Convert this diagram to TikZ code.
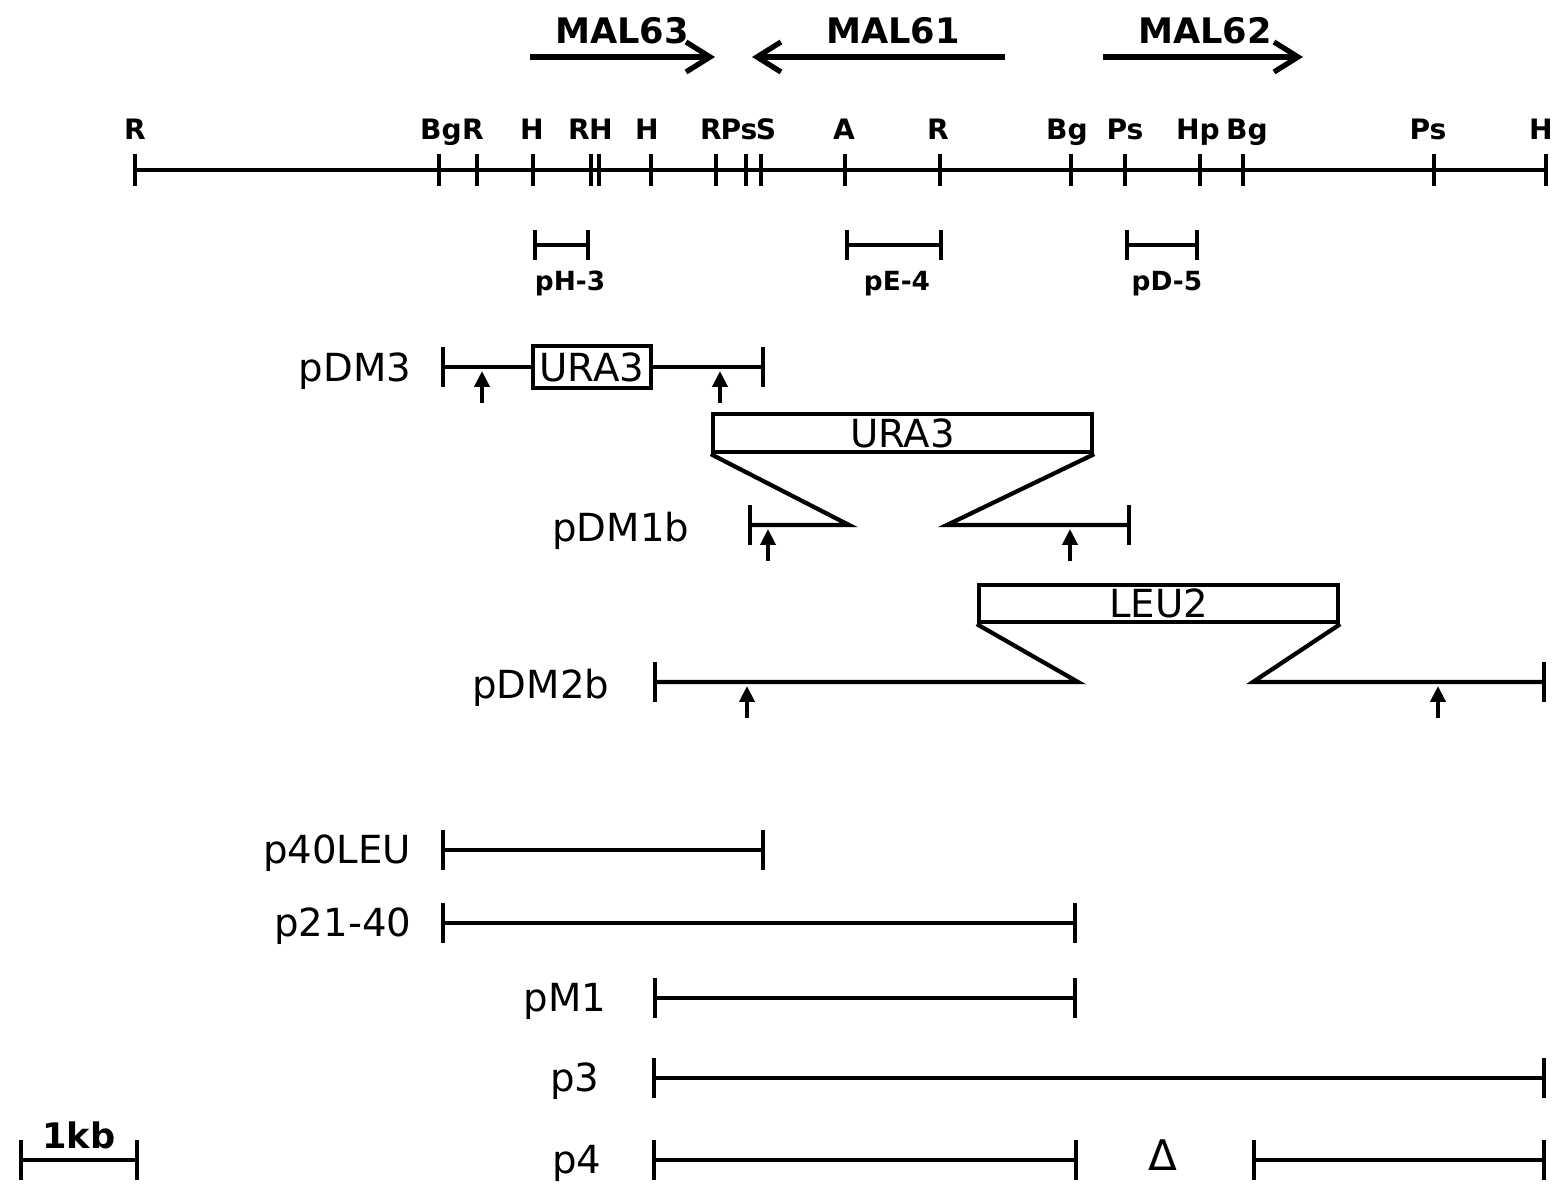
\documentclass[tikz,border=0pt]{standalone}
\usepackage{fontspec}
\setmainfont{DejaVu Sans}
\usetikzlibrary{arrows.meta}

\tikzset{
  dna/.style={line width=1.2pt, line join=miter},
  bothbar/.style={dna, {Bar[width=4mm,line width=1.2pt]}-{Bar[width=4mm,line width=1.2pt]}},
  leftbar/.style={dna, {Bar[width=4mm,line width=1.2pt]}-},
  rightbar/.style={dna, -{Bar[width=4mm,line width=1.2pt]}},
  probe/.style={dna, {Bar[width=3mm,line width=1.2pt]}-{Bar[width=3mm,line width=1.2pt]}},
  tick/.style={line width=1.2pt},
  gene/.style={line width=1.5pt, -{Straight Barb[length=2.4mm,width=3mm,line width=1.5pt]}},
  marker/.style={line width=1.3pt, -{Triangle[length=1.6mm,width=1.5mm]}},
  genebox/.style={draw, line width=1.2pt, inner sep=0pt, font=\fontsize{11}{11}\selectfont},
  sitelab/.style={anchor=base, inner sep=0pt, font=\bfseries\fontsize{8}{8}\selectfont},
  genelab/.style={anchor=base, inner sep=0pt, font=\bfseries\fontsize{10}{10}\selectfont},
  probelab/.style={anchor=base, inner sep=0pt, font=\bfseries\fontsize{7.5}{7.5}\selectfont},
  clonelab/.style={anchor=base east, inner sep=0pt, font=\fontsize{11}{11}\selectfont}
}

\begin{document}
\begin{tikzpicture}[x=0.01cm, y=-0.01cm]
\useasboundingbox (0,0) rectangle (1556,1192);

% genes
\coordinate (g63a) at (530,57);  \coordinate (g63b) at (715,57);
\coordinate (g61a) at (1005,57); \coordinate (g61b) at (752,57);
\coordinate (g62a) at (1103,57); \coordinate (g62b) at (1303,57);
\draw[gene] (g63a) -- (g63b);
\draw[gene] (g61a) -- (g61b);
\draw[gene] (g62a) -- (g62b);
\node[genelab] (mal63) at (622,44) {MAL63};
\node[genelab] (mal61) at (893,44) {MAL61};
\node[genelab] (mal62) at (1205,44) {MAL62};

% restriction map
\foreach \n/\x/\lx/\t in {1/135/135/R, 2/439/441/Bg, 3/477/473/R, 4/533/532/H,
    5/591/579/R, 6/599/601/H, 7/651/647/H, 8/716/711/R, 9/746/739/Ps,
    10/761/766/S, 11/845/844/A, 12/940/938/R, 13/1071/1067/Bg, 14/1125/1125/Ps,
    15/1200/1198/Hp, 16/1243/1247/Bg, 17/1434/1428/Ps, 18/1546/1541/H} {
  \coordinate (s\n) at (\x,170);
  \node[sitelab] (l\n) at (\lx,140) {\t};
}
\draw[tick] (s1) -- (s18);
\foreach \n in {1,...,18} \draw[tick] (s\n) ++(0,-16) -- ++(0,32);

% probes
\coordinate (h3a) at (533,245);  \coordinate (h3b) at (590,245);
\coordinate (e4a) at (845,245);  \coordinate (e4b) at (943,245);
\coordinate (d5a) at (1125,245); \coordinate (d5b) at (1199,245);
\draw[probe] (h3a) -- (h3b);
\draw[probe] (e4a) -- (e4b);
\draw[probe] (d5a) -- (d5b);
\node[probelab] (ph3) at (570,291) {pH-3};
\node[probelab] (pe4) at (897,291) {pE-4};
\node[probelab] (pd5) at (1167,291) {pD-5};

% pDM3
\node[clonelab] (pdm3) at (412,382) {pDM3};
\coordinate (m3a) at (441,367); \coordinate (m3b) at (765,367);
\node[genebox, minimum width=1.18cm, minimum height=0.42cm] (ura1) at (592,367) {URA3};
\draw[leftbar] (m3a) -- (ura1.west);
\draw[rightbar] (ura1.east) -- (m3b);
\coordinate (k1a) at (482,403); \coordinate (k1b) at (482,371);
\coordinate (k2a) at (720,403); \coordinate (k2b) at (720,371);
\draw[marker] (k1a) -- (k1b);
\draw[marker] (k2a) -- (k2b);

% pDM1b
\node[genebox, minimum width=3.79cm, minimum height=0.38cm] (ura2) at (902.5,433) {URA3};
\node[clonelab] (pdm1b) at (690,542) {pDM1b};
\coordinate (m1a) at (748,525);  \coordinate (m1b) at (849,525);
\coordinate (m1c) at (947,525);  \coordinate (m1d) at (1131,525);
\draw[leftbar] (m1a) -- (m1b) -- (ura2.south west);
\draw[rightbar] (ura2.south east) -- (m1c) -- (m1d);
\coordinate (k3a) at (768,561);  \coordinate (k3b) at (768,529);
\coordinate (k4a) at (1070,561); \coordinate (k4b) at (1070,529);
\draw[marker] (k3a) -- (k3b);
\draw[marker] (k4a) -- (k4b);

% pDM2b
\node[genebox, minimum width=3.59cm, minimum height=0.37cm] (leu) at (1158.5,603.5) {LEU2};
\node[clonelab] (pdm2b) at (610,699) {pDM2b};
\coordinate (m2a) at (653,682);  \coordinate (m2b) at (1078,682);
\coordinate (m2c) at (1253,682); \coordinate (m2d) at (1546,682);
\draw[leftbar] (m2a) -- (m2b) -- (leu.south west);
\draw[rightbar] (leu.south east) -- (m2c) -- (m2d);
\coordinate (k5a) at (747,718);  \coordinate (k5b) at (747,686);
\coordinate (k6a) at (1438,718); \coordinate (k6b) at (1438,686);
\draw[marker] (k5a) -- (k5b);
\draw[marker] (k6a) -- (k6b);

% subclones
\node[clonelab] (p40) at (412,864) {p40LEU};
\coordinate (c1a) at (441,850); \coordinate (c1b) at (765,850);
\draw[bothbar] (c1a) -- (c1b);
\node[clonelab] (p21) at (412,937) {p21-40};
\coordinate (c2a) at (441,923); \coordinate (c2b) at (1077,923);
\draw[bothbar] (c2a) -- (c2b);
\node[clonelab] (pm1) at (607,1012) {pM1};
\coordinate (c3a) at (653,998); \coordinate (c3b) at (1077,998);
\draw[bothbar] (c3a) -- (c3b);
\node[clonelab] (p3) at (600,1092) {p3};
\coordinate (c4a) at (652,1078); \coordinate (c4b) at (1546,1078);
\draw[bothbar] (c4a) -- (c4b);
\node[clonelab] (p4) at (602,1174) {p4};
\coordinate (c5a) at (652,1160);  \coordinate (c5b) at (1078,1160);
\coordinate (c5c) at (1252,1160); \coordinate (c5d) at (1546,1160);
\draw[bothbar] (c5a) -- (c5b);
\draw[bothbar] (c5c) -- (c5d);
\node[inner sep=0pt, font=\fontsize{12}{12}\selectfont] (del) at (1163,1155) {Δ};

% scale
\coordinate (kba) at (19,1160); \coordinate (kbb) at (139,1160);
\draw[bothbar] (kba) -- (kbb);
\node[genelab] (kb) at (79,1149) {1kb};
\end{tikzpicture}
\end{document}
